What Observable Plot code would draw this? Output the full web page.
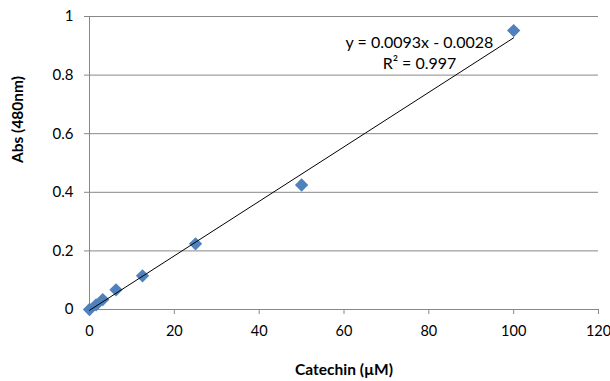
<!DOCTYPE html>
<html>
<head>
<meta charset="utf-8">
<script src="https://cdn.jsdelivr.net/npm/d3@7"></script>
<script src="https://cdn.jsdelivr.net/npm/@observablehq/plot@0.6"></script>
<style>
  html, body { margin: 0; padding: 0; background: #fff; }
  #chart svg { display: block; }
</style>
</head>
<body>
<div id="chart"></div>
<script>
// Data
const concentration = [0, 1.5625, 3.125, 6.25, 12.5, 25, 50, 100];
const absorbance   = [0.0, 0.016, 0.034, 0.067, 0.115, 0.224, 0.425, 0.952];
const slope = 0.0093;
const intercept = -0.0028;
const equationLines = ["y = 0.0093x - 0.0028", "R² = 0.997"];
const xTicks = [0, 20, 40, 60, 80, 100, 120];
const yTicks = [0, 0.2, 0.4, 0.6, 0.8, 1];
const yTickLabels = ["0", "0.2", "0.4", "0.6", "0.8", "1"];
const xTitle = "Catechin (µM)";
const yTitle = "Abs (480nm)";

const points = concentration.map((c, i) => ({x: c, y: absorbance[i]}));
const fitX = [d3.min(concentration), d3.max(concentration)];
const fit = fitX.map(x => ({x, y: slope * x + intercept}));

const gridColor = "#888888";
const font = "Lato, 'Open Sans', sans-serif";

const chart = Plot.plot({
  width: 610,
  height: 381,
  marginLeft: 89,
  marginRight: 12,
  marginTop: 16,
  marginBottom: 72,
  style: {fontFamily: font, fontSize: "15px", color: "#000", background: "#fff"},
  x: {domain: [0, 120]},
  y: {domain: [0, 1]},
  marks: [
    Plot.gridY(yTicks.filter(d => d > 0), {stroke: gridColor, strokeOpacity: 1, strokeWidth: 1}),
    Plot.ruleX([0], {stroke: gridColor, strokeWidth: 1}),
    Plot.ruleY([0], {stroke: gridColor, strokeWidth: 1}),
    Plot.axisX({ticks: xTicks, tickSize: 5, tickPadding: 11, stroke: gridColor, fill: "#000", label: null, fontSize: 14.5}),
    Plot.axisY({ticks: yTicks, tickSize: 5, tickPadding: 11, stroke: gridColor, fill: "#000", label: null, fontSize: 15,
      tickFormat: d => yTickLabels[yTicks.indexOf(d)]}),
    Plot.dot(points, {x: "x", y: "y", symbol: "diamond2", r: 6, fill: "#4F81BD", stroke: "none"}),
    Plot.line(fit, {x: "x", y: "y", stroke: "#000", strokeWidth: 1}),
    Plot.text([equationLines.join("\n")], {frameAnchor: "top-right", textAnchor: "middle", lineAnchor: "top",
      dx: -179, dy: 17, fontSize: 16, lineHeight: 1.3, fill: "#000"}),
    Plot.text([xTitle], {frameAnchor: "bottom", dy: 65, fontWeight: "bold", fontSize: 15.5, fill: "#000"}),
    Plot.text([yTitle], {frameAnchor: "left", rotate: -90, dx: -71, fontWeight: "bold", fontSize: 15.5, fill: "#000"})
  ]
});
document.getElementById("chart").appendChild(chart);
</script>
</body>
</html>
